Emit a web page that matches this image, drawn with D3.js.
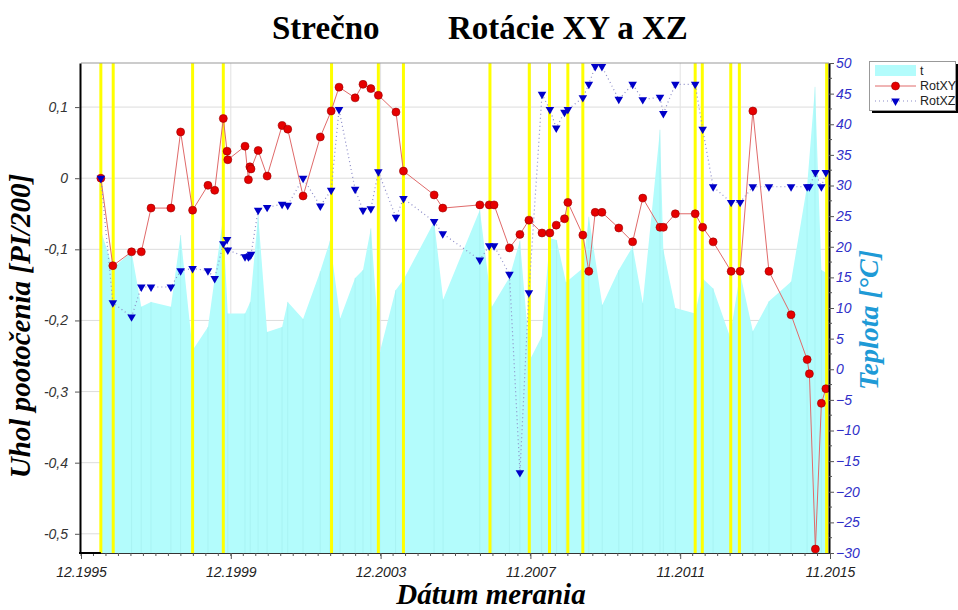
<!DOCTYPE html>
<html lang="sk">
<head>
<meta charset="UTF-8">
<title>Strečno Rotácie XY a XZ</title>
<style>
    body { margin: 0; background: #fff; }
    .tick text { font-family: "Liberation Sans", Arial, sans-serif; font-style: italic; font-size: 14px; }
    .axis-left .tick text { fill: #333; }
    .axis-right .tick text { fill: #2f2fc8; }
    .axis-bottom .tick text { fill: #222; }
    .tick line { stroke: #555; }
    .legend text { font-family: "Liberation Sans", Arial, sans-serif; font-size: 12.5px; fill: #222; }
</style>
</head>
<body>
<script src="https://cdn.jsdelivr.net/npm/d3@7"></script>
<script>
    // measurement dates (decimal years)
    const dates = [1996.45, 1996.77, 1997.27, 1997.53, 1997.79, 1998.32, 1998.58, 1998.90, 1999.31, 1999.49,
        1999.72, 1999.82, 1999.84, 2000.30, 2000.39, 2000.43, 2000.46, 2000.65, 2000.89, 2001.29,
        2001.44, 2001.85, 2002.31, 2002.60, 2002.81, 2003.24, 2003.45, 2003.66, 2003.86, 2004.33,
        2004.53, 2005.35, 2005.58, 2006.57, 2006.82, 2006.95, 2007.36, 2007.64, 2007.88, 2008.23,
        2008.44, 2008.61, 2008.83, 2008.92, 2009.32, 2009.48, 2009.65, 2009.83, 2010.28, 2010.65,
        2010.92, 2011.38, 2011.47, 2011.79, 2012.32, 2012.52, 2012.80, 2013.28, 2013.52, 2013.86,
        2014.29, 2014.88, 2015.31, 2015.37, 2015.53, 2015.69, 2015.81];

    const rotXY = [0, -0.123, -0.1035, -0.1035, -0.042, -0.042, 0.065, -0.045, -0.010, -0.017,
        0.084, 0.038, 0.026, 0.045, -0.002, 0.016, 0.013, 0.039, 0.003, 0.074,
        0.069, -0.025, 0.058, 0.0945, 0.128, 0.113, 0.132, 0.126, 0.1166, 0.093,
        0.010, -0.0235, -0.042, -0.0375, -0.0375, -0.0375, -0.098, -0.079, -0.059, -0.077,
        -0.077, -0.066, -0.057, -0.034, -0.080, -0.131, -0.048, -0.048, -0.070, -0.0895,
        -0.028, -0.069, -0.069, -0.050, -0.050, -0.069, -0.0895, -0.131, -0.131, 0.0945,
        -0.131, -0.192, -0.255, -0.275, -0.5215, -0.3165, -0.296];

    const rotXZ = [0, -0.175, -0.195, -0.153, -0.153, -0.153, -0.130, -0.127, -0.130, -0.141,
        -0.092, -0.086, -0.101, -0.1105, -0.1105, -0.109, -0.107, -0.045, -0.041, -0.0365,
        -0.038, 0.000, -0.039, -0.017, 0.0965, -0.0155, -0.045, -0.043, 0.009, -0.055,
        -0.0285, -0.061, -0.078, -0.115, -0.095, -0.095, -0.135, -0.414, -0.161, 0.118,
        0.0965, 0.0707, 0.0927, 0.0965, 0.1133, 0.132, 0.157, 0.157, 0.111, 0.132,
        0.1105, 0.114, 0.091, 0.132, 0.132, 0.069, -0.012, -0.034, -0.034, -0.012,
        -0.012, -0.012, -0.012, -0.012, 0.008, -0.012, 0.008];

    // temperature t [°C]
    const tempDates = [1996.45, 1996.77, 1997.27, 1997.53, 1997.79, 1998.32, 1998.58, 1998.90, 1999.31, 1999.71,
        1999.84, 2000.30, 2000.44, 2000.65, 2000.89, 2001.29, 2001.44, 2001.85, 2002.31, 2002.57,
        2002.84, 2003.24, 2003.45, 2003.66, 2003.90, 2004.32, 2004.53, 2005.35, 2005.59, 2006.57,
        2006.89, 2007.36, 2007.64, 2007.91, 2008.22, 2008.44, 2008.62, 2008.87, 2009.32, 2009.48,
        2009.84, 2010.28, 2010.65, 2010.92, 2011.38, 2011.47, 2011.79, 2012.32, 2012.52, 2012.80,
        2013.25, 2013.52, 2013.86, 2014.29, 2014.88, 2015.31, 2015.52, 2015.69, 2015.83];
    const tempValues = [22.7, 16.5, 19.2, 10.2, 11.0, 10.2, 21.9, 3.1, 6.9, 24.6,
        9.1, 9.1, 11.0, 25.2, 6.1, 6.9, 11.0, 8.2, 16.0, 21.0,
        8.3, 14.9, 16.2, 23.0, 2.8, 12.9, 14.6, 24.1, 11.4, 26.0,
        10.2, 15.0, 21.0, 1.6, 5.3, 21.4, 21.1, 14.2, 16.5, 24.9,
        10.5, 16.2, 20.0, 10.8, 39.1, 19.5, 10.0, 9.1, 14.8, 13.2,
        5.3, 15.7, 6.2, 11.1, 14.3, 30.0, 46.1, 16.2, 15.7];

    // yellow markers
    const eventDates = [1996.45, 1996.78, 1998.90, 1999.72, 2002.61, 2003.86, 2004.53, 2006.84, 2007.89,
        2008.43, 2008.92, 2009.32, 2012.32, 2012.51, 2013.27, 2013.50, 2015.83];

    const xTicks = [1995.92, 1999.92, 2003.92, 2007.92, 2011.92, 2015.92];
    const xTickLabels = ["12.1995", "12.1999", "12.2003", "11.2007", "11.2011", "11.2015"];
    const leftTicks = [0.1, 0, -0.1, -0.2, -0.3, -0.4, -0.5];
    const rightTicks = d3.range(-30, 51, 5);

    const pLeft = 81, pRight = 829, pTop = 63, pBottom = 553;

    const x = d3.scaleLinear().domain([1995.92, 2015.92]).range([pLeft, pRight + 1]);
    const yL = d3.scaleLinear().domain([-0.527, 0.162]).range([pBottom, pTop]);
    const yR = d3.scaleLinear().domain([-30, 50]).range([pBottom, pTop]);

    const svg = d3.select('body').append('svg')
        .attr('width', 958)
        .attr('height', 610);

    // grid
    svg.append('g').selectAll('line')
        .data(leftTicks)
        .join('line')
        .attr('x1', pLeft).attr('x2', pRight)
        .attr('y1', d => yL(d)).attr('y2', d => yL(d))
        .attr('stroke', '#dcdcdc');

    svg.append('g').selectAll('line')
        .data(xTicks.slice(1, -1))
        .join('line')
        .attr('x1', d => x(d)).attr('x2', d => x(d))
        .attr('y1', pTop).attr('y2', pBottom)
        .attr('stroke', '#e2e2e2');

    // temperature area
    const temps = tempDates.map((d, i) => [d, tempValues[i]]);
    const area = d3.area()
        .x(d => x(d[0]))
        .y0(pBottom)
        .y1(d => yR(d[1]));

    svg.append('path')
        .datum(temps)
        .attr('d', area)
        .attr('fill', '#b3fcfc');

    svg.append('g').selectAll('line')
        .data(temps)
        .join('line')
        .attr('x1', d => x(d[0])).attr('x2', d => x(d[0]))
        .attr('y1', d => yR(d[1])).attr('y2', pBottom)
        .attr('stroke', '#9fecec')
        .attr('stroke-opacity', 0.5);

    // yellow lines
    svg.append('g').selectAll('line')
        .data(eventDates)
        .join('line')
        .attr('x1', d => x(d)).attr('x2', d => x(d))
        .attr('y1', pTop).attr('y2', pBottom)
        .attr('stroke', '#ffff00')
        .attr('stroke-width', 3);

    // frame top
    svg.append('line')
        .attr('x1', pLeft).attr('x2', pRight)
        .attr('y1', pTop).attr('y2', pTop)
        .attr('stroke', '#999');

    // series
    const xy = dates.map((d, i) => [d, rotXY[i]]);
    const xz = dates.map((d, i) => [d, rotXZ[i]]);
    const line = d3.line().x(d => x(d[0])).y(d => yL(d[1]));

    svg.append('path')
        .datum(xy)
        .attr('d', line)
        .attr('fill', 'none')
        .attr('stroke', '#e06a6a')
        .attr('stroke-width', 1);

    svg.append('path')
        .datum(xz)
        .attr('d', line)
        .attr('fill', 'none')
        .attr('stroke', '#8c8cc8')
        .attr('stroke-width', 1.2)
        .attr('stroke-dasharray', '1,3');

    svg.append('g').selectAll('circle')
        .data(xy)
        .join('circle')
        .attr('cx', d => x(d[0]))
        .attr('cy', d => yL(d[1]))
        .attr('r', 4)
        .attr('fill', '#e60000')
        .attr('stroke', '#990000')
        .attr('stroke-width', 0.6);

    const tri = d3.symbol().type(d3.symbolTriangle).size(32);
    svg.append('g').selectAll('path')
        .data(xz)
        .join('path')
        .attr('d', tri)
        .attr('transform', d => `translate(${x(d[0])},${yL(d[1])}) rotate(180)`)
        .attr('fill', '#0000c8');

    // axes
    const axL = svg.append('g')
        .attr('class', 'axis-left')
        .attr('transform', `translate(${pLeft - 1},0)`)
        .call(d3.axisLeft(yL).tickValues(leftTicks).tickSize(5).tickSizeOuter(0).tickPadding(7)
            .tickFormat(d => String(Math.round(d * 10) / 10).replace('.', ',')));
    axL.select('.domain').attr('stroke', '#000').attr('stroke-width', 2);

    const axR = svg.append('g')
        .attr('class', 'axis-right')
        .attr('transform', `translate(${pRight},0)`)
        .call(d3.axisRight(yR).tickValues(rightTicks).tickSize(5).tickSizeOuter(0).tickPadding(2));
    axR.select('.domain').attr('stroke', '#000').attr('stroke-width', 2);
    axR.selectAll('.minor')
        .data(d3.range(-27.5, 50, 5))
        .join('line')
        .attr('x1', 0).attr('x2', 3)
        .attr('y1', d => yR(d)).attr('y2', d => yR(d))
        .attr('stroke', '#555');

    const axB = svg.append('g')
        .attr('class', 'axis-bottom')
        .attr('transform', `translate(0,${pBottom})`)
        .call(d3.axisBottom(x).tickValues(xTicks).tickSize(6).tickSizeOuter(0).tickPadding(8)
            .tickFormat((d, i) => xTickLabels[i]));
    axB.select('.domain').attr('stroke', '#333').attr('stroke-width', 1.2);
    axB.selectAll('.minor')
        .data(d3.range(0, 60).map(k => 1995.92 + k / 3))
        .join('line')
        .attr('x1', d => x(d)).attr('x2', d => x(d))
        .attr('y1', 0).attr('y2', 3)
        .attr('stroke', '#555');
    svg.append('line')
        .attr('x1', pLeft - 2).attr('x2', x(dates[0]))
        .attr('y1', pBottom).attr('y2', pBottom)
        .attr('stroke', '#000').attr('stroke-width', 2);

    // titles
    const serif = '"Liberation Serif", "Times New Roman", serif';
    svg.append('text').attr('x', 272).attr('y', 39)
        .style('font-family', serif).style('font-weight', 'bold').style('font-size', '33px')
        .text('Strečno');
    svg.append('text').attr('x', 448).attr('y', 39)
        .style('font-family', serif).style('font-weight', 'bold').style('font-size', '33px')
        .text('Rotácie XY a XZ');

    svg.append('text')
        .attr('transform', 'translate(30,326) rotate(-90)')
        .attr('text-anchor', 'middle')
        .style('font-family', serif).style('font-weight', 'bold').style('font-style', 'italic')
        .style('font-size', '29px')
        .text('Uhol pootočenia [PI/200]');

    svg.append('text')
        .attr('transform', 'translate(878,320) rotate(-90)')
        .attr('text-anchor', 'middle')
        .attr('fill', '#1e9ad6')
        .style('font-family', serif).style('font-weight', 'bold').style('font-style', 'italic')
        .style('font-size', '28px')
        .text('Teplota [°C]');

    svg.append('text')
        .attr('x', 491).attr('y', 604)
        .attr('text-anchor', 'middle')
        .style('font-family', serif).style('font-weight', 'bold').style('font-style', 'italic')
        .style('font-size', '29px')
        .text('Dátum merania');

    // legend
    const lg = svg.append('g').attr('class', 'legend');
    lg.append('rect').attr('x', 872).attr('y', 64).attr('width', 86).attr('height', 49).attr('fill', '#000');
    lg.append('rect').attr('x', 869.5).attr('y', 61.5).attr('width', 86).attr('height', 49)
        .attr('fill', '#fff').attr('stroke', '#999');
    lg.append('rect').attr('x', 875).attr('y', 65).attr('width', 41).attr('height', 11).attr('fill', '#b3fcfc');
    lg.append('text').attr('x', 920).attr('y', 75).text('t');
    lg.append('line').attr('x1', 875).attr('x2', 916).attr('y1', 86).attr('y2', 86)
        .attr('stroke', '#e06a6a');
    lg.append('circle').attr('cx', 895.5).attr('cy', 86).attr('r', 4)
        .attr('fill', '#e60000').attr('stroke', '#990000').attr('stroke-width', 0.6);
    lg.append('text').attr('x', 920).attr('y', 90).text('RotXY');
    lg.append('line').attr('x1', 875).attr('x2', 916).attr('y1', 101).attr('y2', 101)
        .attr('stroke', '#8c8cc8').attr('stroke-width', 1.2).attr('stroke-dasharray', '1,3');
    lg.append('path').attr('d', tri).attr('transform', 'translate(895.5,101) rotate(180)').attr('fill', '#0000c8');
    lg.append('text').attr('x', 920).attr('y', 105).text('RotXZ');
</script>
</body>
</html>
